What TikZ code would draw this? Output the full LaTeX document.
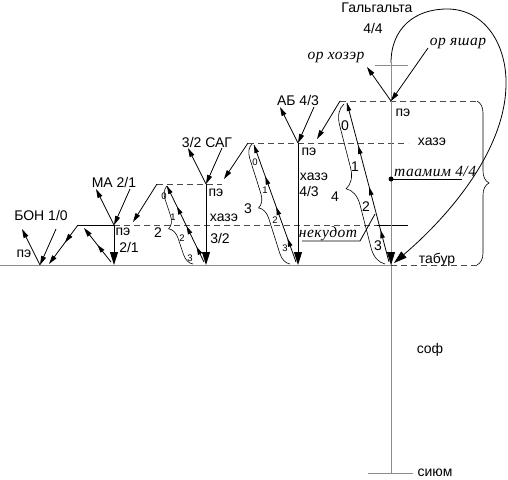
\documentclass[tikz,border=0pt]{standalone}
\usepackage{fontspec}
\setmainfont{Liberation Sans}
\newfontfamily\rmitfont{Liberation Serif}[LetterSpace=3]
\usepackage{tikz}
\usetikzlibrary{arrows.meta,calc,decorations.pathreplacing,decorations.markings}
\definecolor{levelgray}{HTML}{4A4A4A}
\definecolor{axisgray}{HTML}{8C8C8C}
\newcommand{\lvlfont}{\fontsize{14}{15}\selectfont}
\newcommand{\itlfont}{\rmitfont\itshape\fontsize{15.5}{16}\selectfont}
\newcommand{\digfont}{\fontsize{9.5}{10}\selectfont}
\tikzset{
  lbl/.style={font=\lvlfont, inner sep=0pt},
  itlbl/.style={font=\itlfont, inner sep=0pt},
  dig/.style={font=\digfont, inner sep=0pt},
  thinline/.style={line width=0.8pt},
  lvline/.style={line width=0.8pt, levelgray, dash pattern=on 6pt off 4pt},
  ray/.style={line width=0.8pt, -{Triangle[length=9pt,width=5pt]}},
  bigray/.style={line width=0.8pt, -{Triangle[length=13pt,width=8pt,color=black]}},
  uprays/.style={line width=0.8pt, postaction={decorate},
    decoration={markings,
      mark=at position 0.2 with {\arrow{Triangle[length=8pt,width=4.5pt]}},
      mark=at position 0.47 with {\arrow{Triangle[length=8pt,width=4.5pt]}},
      mark=at position 0.73 with {\arrow{Triangle[length=8pt,width=4.5pt]}},
      mark=at position 1 with {\arrow{Triangle[length=8pt,width=4.5pt]}}}},
  curly/.style={line width=0.6pt, decorate, decoration={brace, amplitude=#1}},
}
\begin{document}
\begin{tikzpicture}[x=1pt, y=-1pt]
  \useasboundingbox (0,0) rectangle (508,479);

  %% Galgalta axis, from the cross down to the siyum
  \coordinate (top) at (391,63);
  \coordinate (tabur) at (391,265);
  \coordinate (siyum) at (391,473);
  \draw[thinline, axisgray] (top) -- (siyum);
  \draw[thinline, axisgray] (375,65) -- (408,65);
  \draw[thinline, axisgray] (368,473) -- (413,473);

  %% base line at tabur
  \draw[thinline, axisgray] (0,265) -- (tabur);
  \draw[lvline] (tabur) -- (477,265);

  %% pe of each partzuf
  \coordinate (bon) at (40,265);
  \coordinate (ma) at (114,225);
  \coordinate (sag) at (206,184);
  \coordinate (ab) at (298,143);
  \coordinate (gal) at (391,101);

  %% levels
  \draw[thinline] (78,225) -- (ma);
  \draw[lvline] (ma) -- (377,225);
  \draw[thinline] (377,225) -- (408,225);
  \draw[lvline] (157,184) -- (222,184);
  \draw[lvline] (248,143) -- (408,143);
  \draw[lvline] (340,101) -- (477,101);
  \draw[curly=12] (477,101) -- (477,265);

  %% roofs coming down to the level below
  \foreach \n/\rx/\ry/\dx/\dy in {1/78/225/49/264, 2/157/184/133/222,
                                  3/248/143/224/179, 4/340/101/317/139} {
    \coordinate (r\n) at (\rx,\ry);
    \coordinate (d\n) at (\dx,\dy);
    \draw[ray] (r\n) -- (d\n);
  }
  \path[postaction={decorate}, decoration={markings,
    mark=at position 0.45 with {\arrow{Triangle[length=9pt,width=5pt]}}}]
    (r1) -- (d1);

  %% verticals down to tabur
  \foreach \p in {ma,sag,ab}
    \draw[bigray] (\p) -- (\p |- tabur);
  \draw[bigray, axisgray] (gal) -- (tabur);

  %% rising lines with the levels 0..3
  \foreach \n/\tx/\ty/\bx/\by in {1/84/228/111/262, 2/167/186/204/262,
                                  3/254/145/296/262, 4/347/103/389/262} {
    \coordinate (s\n) at (\tx,\ty);
    \coordinate (t\n) at (\bx,\by);
  }
  \foreach \n in {2,3,4}
    \draw[uprays] (t\n) -- (s\n);
  \draw[ray, postaction={decorate}, decoration={markings,
    mark=at position 0.5 with {\arrow{Triangle[length=8pt,width=4.5pt]}}}]
    (t1) -- (s1);

  %% light in and out at each pe
  \foreach \p in {bon,ma,sag,ab} {
    \coordinate (\p-out) at ($(\p)+(-18,-36)$);
    \coordinate (\p-in) at ($(\p)+(16,-36)$);
    \draw[ray] (\p) -- (\p-out);
    \draw[ray] (\p-in) -- (\p);
  }
  \coordinate (gal-out) at (367,67);
  \coordinate (gal-in) at (428,48);
  \draw[ray] (gal) -- (gal-out);
  \draw[ray] (gal-in) -- (gal);

  %% braces
  \draw[curly=12] (193,264) -- (167,186);
  \draw[curly=13] (290,264) -- (252,144);
  \draw[curly=19] (385,264) -- (344,104);

  %% the big loop back to tabur
  \draw[bigray] (top) .. controls (391,28) and (415,9) .. (447,9)
    .. controls (485,9) and (507,45) .. (506,85)
    .. controls (505,150) and (450,215) .. (394,263);

  %% taamim
  \coordinate (taam) at (391,179);
  \coordinate (taam-end) at (462,179);
  \fill (taam) circle (2.5);
  \draw[thinline] (taam) -- (taam-end);
  \node[itlbl, anchor=base west] (taamim) at (394,176) {таамим 4/4};

  %% nekudot with its leader
  \node[itlbl] (nekudot) at (328,234) {некудот};
  \coordinate (nek-a) at (302,241);
  \coordinate (nek-b) at (360,241);
  \coordinate (nek-c) at (375,214);
  \draw[thinline] (nek-a) -- (nek-b) -- (nek-c);

  %% names of the partzufim
  \node[lbl] (bon-name) at (41,215) {БОН 1/0};
  \node[lbl] (ma-name) at (114,182) {МА 2/1};
  \node[lbl] (sag-name) at (207,142) {3/2 САГ};
  \node[lbl] (ab-name) at (298,100) {АБ 4/3};
  \node[lbl] (gal-name) at (377,8) {Гальгальта};
  \node[lbl] (gal-frac) at (373,28) {4/4};
  \node[itlbl] (or-hozer) at (336,57) {ор хозэр};
  \node[itlbl] (or-yashar) at (458,43) {ор яшар};

  %% levels on each vertical
  \node[lbl] (bon-pe) at (24,254) {пэ};
  \node[lbl] (ma-pe) at (123,232) {пэ};
  \node[lbl] (ma-frac) at (129,247) {2/1};
  \node[lbl] (sag-pe) at (216,193) {пэ};
  \node[lbl] (sag-haze) at (224,218) {хазэ};
  \node[lbl] (sag-frac) at (220,238) {3/2};
  \node[lbl] (ab-pe) at (309,152) {пэ};
  \node[lbl] (ab-haze) at (314,177) {хазэ};
  \node[lbl] (ab-frac) at (309,191) {4/3};
  \node[lbl] (gal-pe) at (403,113) {пэ};
  \node[lbl] (gal-haze) at (432,142) {хазэ};
  \node[lbl] (tabur-name) at (437,260) {табур};
  \node[lbl] (sof-name) at (430,350) {соф};
  \node[lbl] (siyum-name) at (435,473) {сиюм};

  %% brace counts
  \node[lbl] (cnt2) at (158,233) {2};
  \node[lbl] (cnt3) at (248,209) {3};
  \node[lbl] (cnt4) at (335,197) {4};

  %% digits along the rising lines
  \foreach \d/\x/\y in {0/164/196, 1/173/217, 2/182/238, 3/190/258}
    \node[dig] (two-\d) at (\x,\y) {\d};
  \foreach \d/\x/\y in {0/255/162, 1/265/190, 2/275/220, 3/285/248}
    \node[dig] (three-\d) at (\x,\y) {\d};
  \foreach \d/\x/\y in {0/345/126, 1/355/167, 2/366/207, 3/378/246}
    \node[lbl] (four-\d) at (\x,\y) {\d};
\end{tikzpicture}
\end{document}
